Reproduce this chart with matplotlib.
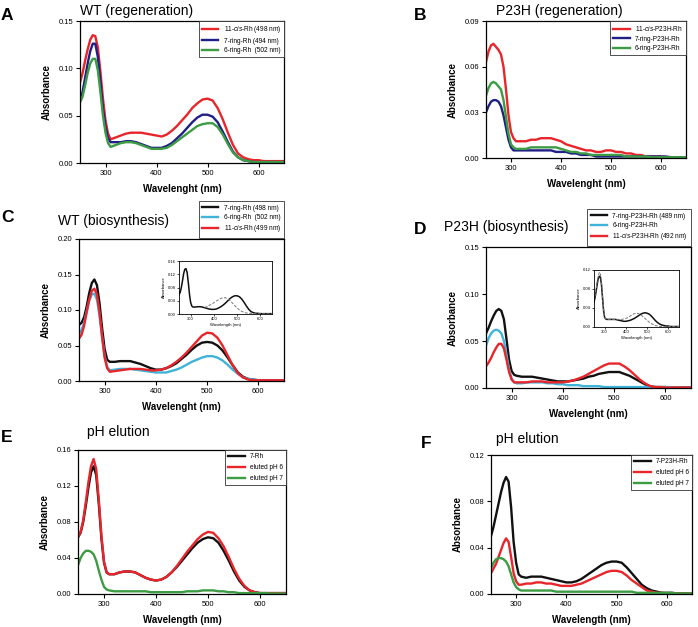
import numpy as np
import matplotlib
matplotlib.use("Agg")
import matplotlib.pyplot as plt

plt.rcParams['font.family'] = ['Liberation Sans', 'DejaVu Sans']
plt.rcParams['mathtext.fontset'] = 'custom'
plt.rcParams['mathtext.it'] = 'Liberation Sans:italic'
plt.rcParams['mathtext.rm'] = 'Liberation Sans'

# wavelength grid (nm) used by every spectrum
wl = [250, 255, 260, 265, 270, 275, 280, 285, 290, 295, 300, 305, 310,
      320, 330, 340, 350, 360, 370, 380, 390, 400, 410,
      420, 430, 440, 450, 460, 470, 480, 490, 500, 510,
      520, 530, 540, 550, 560, 570, 580, 590, 600, 610,
      620, 630, 640, 650]
nan = np.nan

# --- A: WT regeneration
a_11cis = [.085, .095, .108, .120, .130, .135, .134, .122, .097, .068, .045, .031, .025,
           .027, .029, .031, .032, .032, .032, .031, .030, .029, .028,
           .030, .034, .039, .045, .051, .058, .063, .067, .068, .066,
           .058, .046, .032, .019, .010, .006, .004, .003, .003, .002,
           .002, .002, .002, .002]
a_7ring = [.067, .075, .090, .105, .118, .126, .126, .112, .086, .058, .038, .026, .022,
           .022, .022, .023, .023, .022, .020, .018, .016, .016, .016,
           .018, .021, .026, .031, .037, .043, .048, .051, .051, .049,
           .043, .033, .022, .012, .006, .003, .002, .001, .001, .001,
           .001, .001, .001, .001]
a_6ring = [.064, .070, .082, .095, .105, .110, .110, .098, .075, .050, .032, .021, .017,
           .019, .021, .022, .022, .021, .019, .017, .015, .015, .015,
           .016, .019, .023, .027, .031, .035, .039, .041, .042, .042,
           .038, .030, .020, .011, .006, .003, .002, .001, .001, .001,
           .001, .001, .001, .001]

# --- B: P23H regeneration
b_11cis = [.063, .070, .074, .075, .073, .071, .068, .060, .045, .028, .017, .013, .011,
           .011, .011, .012, .012, .013, .013, .013, .012, .011, .009,
           .008, .007, .006, .005, .005, .004, .004, .005, .005, .004,
           .004, .003, .003, .002, .002, .001, .001, .001, .001, .0005,
           .0005, .0005, .0005, .0005]
b_7ring = [.030, .034, .037, .038, .038, .037, .034, .028, .020, .012, .007, .005, .005,
           .005, .005, .005, .005, .005, .005, .005, .004, .004, .004,
           .003, .003, .002, .002, .002, .001, .001, .001, .001, .001,
           .001, .001, .001, .001, .001, .001, .001, .001, .001, .001,
           .0005, .0005, .0005, .0005]
b_6ring = [.041, .046, .049, .050, .049, .047, .045, .038, .027, .016, .009, .007, .006,
           .006, .006, .007, .007, .007, .007, .007, .007, .006, .005,
           .004, .004, .003, .003, .002, .002, .002, .002, .002, .002,
           .002, .001, .001, .001, .001, .001, .0005, .0005, .0005, .0005,
           .0005, .0005, .0005, .0005]

# --- C: WT biosynthesis
c_7ring = [.079, .082, .090, .105, .124, .138, .143, .135, .110, .075, .045, .030, .027,
           .027, .028, .028, .028, .026, .024, .021, .018, .016, .016,
           .018, .021, .025, .031, .037, .044, .050, .054, .055, .054,
           .050, .043, .033, .022, .012, .006, .003, .002, .001, .001,
           .001, .001, .001, .001]
c_6ring = [.066, .072, .082, .098, .113, .122, .123, .115, .092, .062, .035, .020, .015,
           .016, .017, .017, .017, .016, .015, .014, .013, .012, .012,
           .012, .014, .016, .019, .023, .027, .030, .033, .035, .035,
           .033, .029, .023, .016, .010, .005, .003, .002, .001, .001,
           .001, .001, .001, .001]
c_11cis = [.060, .065, .078, .097, .115, .127, .130, .122, .097, .063, .033, .018, .013,
           .014, .015, .016, .017, .017, .017, .016, .015, .015, .016,
           .018, .022, .027, .033, .040, .048, .056, .064, .068, .067,
           .061, .050, .036, .022, .011, .005, .002, .001, .001, .001,
           .001, .001, .001, .001]
c_inset_solid = [.058, .065, .080, .100, .122, .135, .137, .125, .095, .060, .035, .024, .021,
                 .021, .022, .022, .021, .019, .017, .015, .014, .014, .015,
                 .018, .022, .027, .033, .040, .047, .052, .055, .055, .052,
                 .045, .035, .024, .014, .007, .004, .002, .002, .001, .001,
                 .001, .001, .001, .001]
c_inset_dash = [nan, nan, nan, nan, nan, nan, nan, nan, nan, nan, nan, nan, nan,
                nan, nan, nan, nan, .020, .022, .026, .030, .034, .039,
                .043, .047, .049, .049, .046, .040, .033, .025, .018, .012,
                .008, .005, .003, .002, .002, .001, .001, .001, .001, .001,
                .001, .001, .001, .001]

# --- D: P23H biosynthesis
d_7ring = [.058, .064, .071, .077, .082, .084, .082, .073, .052, .030, .018, .014, .013,
           .012, .012, .012, .011, .010, .009, .008, .007, .007, .007,
           .008, .009, .010, .012, .013, .015, .016, .017, .017, .017,
           .015, .013, .010, .007, .004, .002, .001, .001, .001, .0005,
           .0005, .0005, .0005, .0005]
d_6ring = [.045, .053, .058, .061, .062, .061, .058, .050, .035, .020, .010, .006, .005,
           .005, .006, .006, .006, .006, .005, .005, .004, .004, .003,
           .003, .003, .002, .002, .002, .002, .001, .001, .001, .001,
           .001, .001, .001, .001, .001, .001, .001, .001, .001, .001,
           .0005, .0005, .0005, .0005]
d_11cis = [.023, .027, .032, .038, .043, .047, .047, .042, .030, .017, .009, .006, .006,
           .006, .006, .007, .007, .007, .006, .006, .006, .006, .007,
           .008, .010, .012, .015, .018, .021, .024, .026, .026, .026,
           .023, .019, .014, .009, .005, .002, .001, .001, .0005, .0005,
           .0005, .0005, .0005, .0005]
d_inset_solid = [.052, .062, .075, .090, .102, .107, .105, .090, .062, .035, .020, .017, .016,
                 .016, .016, .016, .016, .015, .014, .013, .012, .012, .013,
                 .014, .016, .018, .021, .024, .027, .029, .030, .029, .027,
                 .023, .018, .013, .009, .006, .004, .003, .002, .002, .001,
                 .001, .001, .001, .001]
d_inset_dash = [.055, .066, .080, .095, .108, .115, .113, .095, .065, .037, .021, .017, .016,
                .016, .016, .016, .016, .016, .016, .016, .017, .018, .020,
                .023, .026, .028, .029, .028, .026, .022, .018, .014, .010,
                .007, .005, .003, .002, .001, .001, .001, .001, .001, .001,
                .001, .001, .001, .001]

# --- E: pH elution (WT)
e_7rh = [.063, .068, .080, .098, .118, .135, .142, .132, .100, .062, .035, .024, .022,
         .022, .024, .025, .025, .024, .021, .018, .016, .015, .016,
         .019, .024, .030, .037, .044, .051, .057, .061, .063, .062,
         .057, .048, .037, .025, .015, .008, .004, .002, .001, .001,
         .001, .001, .001, .001]
e_ph6 = [.063, .069, .082, .102, .124, .142, .150, .139, .105, .065, .036, .024, .022,
         .022, .024, .025, .025, .024, .021, .018, .016, .015, .016,
         .019, .024, .031, .039, .047, .054, .061, .066, .069, .068,
         .062, .053, .041, .028, .017, .009, .004, .002, .001, .001,
         .001, .001, .001, .001]
e_ph7 = [.032, .040, .045, .048, .048, .047, .044, .037, .026, .016, .008, .005, .004,
         .003, .003, .003, .003, .003, .003, .003, .002, .002, .002,
         .002, .002, .002, .002, .003, .003, .003, .004, .004, .004,
         .003, .003, .002, .002, .001, .001, .001, .001, .001, .001,
         .0005, .0005, .0005, .0005]

# --- F: pH elution (P23H)
f_7rh = [.050, .058, .068, .078, .088, .096, .101, .097, .075, .045, .027, .017, .015,
         .014, .015, .015, .015, .014, .013, .012, .011, .010, .010,
         .011, .013, .016, .019, .022, .025, .027, .028, .028, .027,
         .023, .018, .013, .008, .005, .003, .002, .001, .001, .001,
         .0005, .0005, .0005, .0005]
f_ph6 = [.018, .022, .026, .032, .038, .044, .048, .045, .032, .018, .011, .008, .008,
         .009, .009, .010, .010, .009, .009, .008, .007, .007, .007,
         .008, .009, .011, .013, .015, .017, .019, .020, .020, .019,
         .016, .012, .009, .006, .003, .002, .001, .001, .0005, .0005,
         .0005, .0005, .0005, .0005]
f_ph7 = [.022, .027, .030, .031, .031, .030, .028, .024, .017, .010, .006, .004, .003,
         .003, .003, .003, .003, .003, .003, .002, .002, .002, .002,
         .002, .002, .002, .002, .002, .002, .002, .002, .002, .002,
         .002, .002, .001, .001, .001, .001, .001, .001, .001, .001,
         .0005, .0005, .0005, .0005]

RED = '#e8252b'
NAVY = '#1f1f86'
GREEN = '#3c9b43'
CYAN = '#3fb3d9'
BLACK = '#111111'

W, H = 698, 627
fig = plt.figure(figsize=(W / 100, H / 100), dpi=100)


def box(l, t, r, b):
    return [l / W, 1 - b / H, (r - l) / W, (b - t) / H]


def panel(rect, ymax, ystep, curves, xlabel, leg_above, spacing=0.35):
    ax = fig.add_axes(box(*rect))
    for y, col, lab in curves:
        ax.plot(wl, y, color=col, lw=1.7, label=lab)
    ax.set_xlim(250, 650)
    ax.set_ylim(0, ymax)
    ax.set_xticks([300, 400, 500, 600])
    ax.set_yticks(np.arange(0, ymax + 1e-9, ystep))
    ax.yaxis.set_major_formatter(matplotlib.ticker.FormatStrFormatter('%.2f'))
    ax.tick_params(direction='out', length=3, width=0.8, labelsize=5.5, pad=2)
    for s in ax.spines.values():
        s.set_linewidth(0.9)
    ax.set_xlabel(xlabel, fontsize=7, fontweight='bold', labelpad=5)
    ax.set_ylabel('Absorbance', fontsize=7, fontweight='bold', labelpad=5)
    if leg_above:
        kw = dict(loc='lower right', bbox_to_anchor=(1, 1.01))
    else:
        kw = dict(loc='upper right', bbox_to_anchor=(1, 1))
    leg = ax.legend(fontsize=4.7, frameon=True, fancybox=False, framealpha=1,
                    edgecolor='#333333', borderaxespad=0, handlelength=2.5,
                    borderpad=0.5, labelspacing=spacing, handletextpad=0.8, **kw)
    leg.get_frame().set_linewidth(0.6)
    return ax


def inset(rect, ymax, ystep, solid, dash):
    ax = fig.add_axes(box(*rect))
    ax.plot(wl, solid, color=BLACK, lw=1.1)
    ax.plot(wl, dash, color='#777777', lw=0.7, ls=(0, (3, 1.5)))
    ax.set_xlim(250, 650)
    ax.set_ylim(0, ymax)
    ax.set_xticks([300, 400, 500, 600])
    ax.set_yticks(np.arange(0, ymax + 1e-9, ystep))
    ax.yaxis.set_major_formatter(matplotlib.ticker.FormatStrFormatter('%.2f'))
    ax.tick_params(direction='out', length=1.5, width=0.5, labelsize=3, pad=1)
    for s in ax.spines.values():
        s.set_linewidth(0.6)
    ax.set_xlabel('Wavelength (nm)', fontsize=3, labelpad=1)
    ax.set_ylabel('Absorbance', fontsize=3, labelpad=1)


cis = r'11-$\it{cis}$'

panel((80, 21, 284, 163), 0.15, 0.05,
      [(a_11cis, RED, cis + '-Rh (498 nm)'),
       (a_7ring, NAVY, '7-ring-Rh (494 nm)'),
       (a_6ring, GREEN, '6-ring-Rh  (502 nm)')],
      'Wavelenght (nm)', False)

panel((486, 21, 686, 158), 0.09, 0.03,
      [(b_11cis, RED, cis + '-P23H-Rh'),
       (b_7ring, NAVY, '7-ring-P23H-Rh'),
       (b_6ring, GREEN, '6-ring-P23H-Rh')],
      'Wavelenght (nm)', False)

panel((79, 239, 284, 381), 0.20, 0.05,
      [(c_7ring, BLACK, '7-ring-Rh (498 nm)'),
       (c_6ring, CYAN, '6-ring-Rh  (502 nm)'),
       (c_11cis, RED, cis + '-Rh (499 nm)')],
      'Wavelenght (nm)', True)
inset((179, 261, 272, 314), 0.16, 0.04, c_inset_solid, c_inset_dash)

panel((486, 247, 691, 388), 0.15, 0.05,
      [(d_7ring, BLACK, '7-ring-P23H-Rh (489 nm)'),
       (d_6ring, CYAN, '6-ring-P23H-Rh'),
       (d_11cis, RED, cis + '-P23H-Rh (492 nm)')],
      'Wavelenght (nm)', True)
inset((594, 270, 679, 327), 0.12, 0.04, d_inset_solid, d_inset_dash)

panel((78, 450, 286, 594), 0.16, 0.04,
      [(e_7rh, BLACK, '7-Rh'),
       (e_ph6, RED, 'eluted pH 6'),
       (e_ph7, GREEN, 'eluted pH 7')],
      'Wavelength (nm)', False, spacing=0.6)

panel((491, 455, 692, 594), 0.12, 0.04,
      [(f_7rh, BLACK, '7-P23H-Rh'),
       (f_ph6, RED, 'eluted pH 6'),
       (f_ph7, GREEN, 'eluted pH 7')],
      'Wavelength (nm)', False, spacing=0.6)

# titles and panel letters
titles = [(80, 11, 'WT (regeneration)'), (496, 11, 'P23H (regeneration)'),
          (58, 221, 'WT (biosynthesis)'), (444, 227, 'P23H (biosynthesis)'),
          (87, 432, 'pH elution'), (496, 439, 'pH elution')]
for x, y, t in titles:
    fig.text(x / W, 1 - y / H, t, fontsize=10, ha='left', va='center')

letters = [(1, 16, 'A'), (414, 16, 'B'), (1, 218, 'C'), (414, 230, 'D'),
           (1, 438, 'E'), (421, 443, 'F')]
for x, y, t in letters:
    fig.text(x / W, 1 - y / H, t, fontsize=12.5, fontweight='bold',
             ha='left', va='center')

fig.savefig('out.png', dpi=100, facecolor='white')
